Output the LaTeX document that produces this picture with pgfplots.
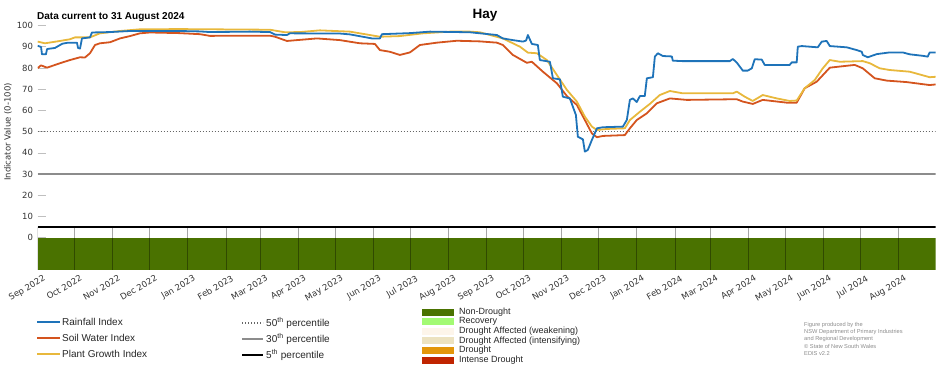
\documentclass[border=0pt]{standalone}
\usepackage{fontspec}
\setmainfont{Liberation Sans}
\newfontfamily\dejavu{DejaVu Sans}
\usepackage{pgfplots}
\pgfplotsset{compat=1.18}
\definecolor{rainc}{RGB}{30,115,185}
\definecolor{soilc}{RGB}{212,84,30}
\definecolor{plantc}{RGB}{232,184,60}
\definecolor{ndgreen}{RGB}{74,114,0}
\definecolor{recov}{RGB}{163,250,115}
\definecolor{weak}{RGB}{253,245,234}
\definecolor{intens}{RGB}{236,226,192}
\definecolor{drought}{RGB}{227,150,10}
\definecolor{intense}{RGB}{192,36,0}
\definecolor{p30}{RGB}{140,140,140}
\begin{document}
\begin{tikzpicture}[x=1pt,y=1pt]
\useasboundingbox (0,0) rectangle (952,370);
\begin{axis}[
  at={(37.7pt,100.5pt)}, anchor=south west,
  scale only axis, width=898pt, height=243.8pt,
  xmin=0, xmax=730, ymin=-15, ymax=100,
  axis line style={draw=none},
  /pgf/number format/assume math mode=true,
  xtick={0,30,61,91,122,153,181,212,242,273,303,334,365,395,426,456,487,518,547,578,608,639,669,700},
  xticklabels={Sep 2022,Oct 2022,Nov 2022,Dec 2022,Jan 2023,Feb 2023,Mar 2023,Apr 2023,May 2023,Jun 2023,Jul 2023,Aug 2023,Sep 2023,Oct 2023,Nov 2023,Dec 2023,Jan 2024,Feb 2024,Mar 2024,Apr 2024,May 2024,Jun 2024,Jul 2024,Aug 2024},
  ytick={0,10,...,100},
  tick align=inside, major tick length=8pt,
  xtick style={draw=none},
  ytick style={color=black!25, line width=0.8pt},
  ytick pos=left, xtick pos=bottom,
  x tick label style={font=\dejavu\fontsize{8.5}{10}\selectfont, color=black!80, xshift=5pt, yshift=-5pt, rotate=30, anchor=north east, inner sep=0pt},
  y tick label style={font=\dejavu\fontsize{8.5}{10}\selectfont, color=black!80, anchor=east, inner sep=0pt, xshift=-4.5pt},
  line join=round,
]
% drought category band
\addplot[draw=none, fill=ndgreen] coordinates {(0,0) (730,0) (730,-15) (0,-15)} -- cycle;
\pgfplotsinvokeforeach{0,30,61,91,122,153,181,212,242,273,303,334,365,395,426,456,487,518,547,578,608,639,669,700}{
  \draw[black, opacity=0.35, line width=0.8pt] (axis cs:#1,-15) -- (axis cs:#1,5);
}
% percentiles
\addplot[black!60, line width=1.3pt, dash pattern=on 1.2pt off 1.8pt] coordinates {(0,50) (730,50)};
\addplot[p30, line width=2pt] coordinates {(0,30) (730,30)};
\addplot[black, line width=2.4pt] coordinates {(0,5) (730,5)};
% Soil Water Index
\addplot[soilc, line width=1.8pt] coordinates {
(0,80) (2.7,81.3) (7.6,80.2) (18.1,82.3) (26.2,83.8) (34.4,85.1) (38.4,85) (42.5,87)
(46.6,90.9) (50.6,91.7) (58.8,92.2) (66.9,94) (75,95.1) (83.1,96.4) (91.3,96.8)
(115,96.5) (131.9,96) (140,95.2) (172.5,95.3) (188.8,95.3) (192.9,94.8) (202.6,92.8)
(227,94) (245.7,93.2) (261.9,91.7) (274.1,91.4) (278.2,88.5) (286.3,87.7) (294.4,86.2)
(302.6,87.4) (310.7,90.9) (324.5,92) (340.8,92.9) (359.4,92.6) (373.3,92) (378.1,90.9)
(386.3,86.2) (397.6,82.5) (401.7,83) (410.7,78.3) (422.1,72.8) (430.2,66.8) (438.3,62.6)
(444.8,55.5) (450.5,49.2) (454.6,47.4) (459.4,48) (477.3,48.4) (481.4,51.6) (487,55.5)
(495.2,58.7) (503.3,63.4) (513.9,65.7) (527.7,65) (565.1,65.3) (568.3,65.3) (573.2,64.2)
(581.3,63.1) (589.4,65) (608.9,63.7) (617,63.7) (623.5,70.5) (633.3,73.6) (643.9,80.2)
(657.7,81.1) (664.2,81.5) (670.7,79.9) (680.4,75.2) (690.2,74.1) (706.4,73.4) (725.1,72) (730,72.3)
};
% Plant Growth Index
\addplot[plantc, line width=1.8pt] coordinates {
(0,92.5) (5.9,91.7) (18.1,92.8) (26.2,93.6) (30.3,94.5) (42.5,94.5) (50.6,96.4) (66.9,97.5)
(83.1,98.3) (115.6,98.4) (188.8,98.1) (201,96.9) (213.2,97) (229.4,97.8) (253.8,97.2)
(278.2,94.8) (294.4,95.1) (313.1,96.4) (335.1,97.2) (351.3,97.2) (359.4,96.9) (378.1,94)
(392,90.1) (398.5,87.3) (405.8,87) (413.9,83.8) (422.1,76.7) (430.2,69.7) (438.3,64.2)
(444.8,57.1) (450.5,52.4) (454.6,50.8) (462.7,51.3) (477.3,51.6) (481.4,55.5) (489.5,59.4)
(497.6,63.1) (505.7,67.3) (513.9,69.2) (524.4,68.1) (565.1,68.1) (568.3,68.9) (574.8,66.5)
(581.3,64.5) (589.4,67.3) (600.8,65.7) (611.3,64.5) (617,64.7) (623.5,70.5) (631.7,74.4)
(638.2,79.9) (643.9,83.8) (652,83) (670.7,83.3) (676.4,82.3) (684.5,79.9) (692.6,79.1)
(708.9,78.3) (725.1,75.7) (730,75.9)
};
% Rainfall Index
\addplot[rainc, line width=1.8pt] coordinates {
(0,90.5) (2.7,90) (3.5,86.5) (6.7,86.5) (7.6,89) (14,89.5) (20,91.5) (24.6,92) (31.9,92)
(32.8,89.5) (34.4,89.2) (36,94) (42.5,94.5) (44.1,96.8) (58.8,97) (75,97.5) (115,97.5)
(131.9,97.3) (140,97) (172.5,97.2) (188.8,97) (192.9,95.8) (202.6,95.6) (205,96.4)
(245.7,96.3) (253.8,95.9) (271.7,94) (278.2,94) (279.8,96) (302.6,96.5) (318.8,97.2)
(351.3,96.9) (373.3,95.6) (378.1,94) (386.3,93.2) (394.4,92.5) (397,93) (398.5,95.6)
(401.7,91.4) (406.6,90.9) (408.2,83.8) (416.4,83) (418.8,75.2) (424.5,74.7) (426.9,66.5)
(432.6,65.7) (437.5,57.9) (439.1,47.6) (443.2,46.4) (444.8,40.6) (447.2,41.4) (450.5,46.1)
(454.6,51.6) (459.4,52.1) (475.7,52.4) (478.9,55.5) (481.4,65) (483.8,65.7) (487,64)
(489.5,66.8) (493.5,66.8) (495.2,75.2) (500.1,75.7) (501.7,85.4) (504.1,87) (508.2,85.7)
(515.5,85.5) (516.3,83.5) (524,83.3) (562.6,83.3) (565.1,84.3) (568.3,82.6) (573.2,78.8)
(577.2,78.8) (580.5,79.9) (582.9,84.2) (588.6,84) (591,81.5) (611.3,81.5) (613,82.7)
(617,82.7) (617.9,90.1) (621.1,90.4) (634.1,89.8) (637.4,92.5) (641.4,92.8) (643.9,90.4)
(657.7,89.8) (665.8,88.5) (669.9,87.7) (670.7,86.2) (674.7,85.1) (682.1,86.6) (692.6,87.4)
(703.2,87.4) (708.9,86.5) (719.4,85.8) (723.5,85.4) (725.1,87.4) (730,87.4)
};
\end{axis}
% titles
\node[font=\bfseries\fontsize{13.5}{15}\selectfont] at (485,355) {Hay};
\node[font=\bfseries\fontsize{10}{12}\selectfont, anchor=west, inner sep=0pt] at (37,352.7) {Data current to 31 August 2024};
\node[font=\dejavu\fontsize{8.5}{10}\selectfont, color=black!80, rotate=90] at (8,238) {Indicator Value (0-100)};
% legend, column 1
\begin{scope}[font=\fontsize{10}{12}\selectfont, every node/.style={anchor=west, inner sep=0pt, color=black!85}]
\draw[rainc, line width=1.8pt] (37,48.3) -- (60,48.3); \node at (62,48.3) {Rainfall Index};
\draw[soilc, line width=1.8pt] (37,32) -- (60,32); \node at (62,32) {Soil Water Index};
\draw[plantc, line width=1.8pt] (37,16) -- (60,16); \node at (62,16) {Plant Growth Index};
\draw[black!60, line width=1.3pt, dash pattern=on 1.2pt off 1.8pt] (242,47) -- (263,47); \node at (266,47) {50\textsuperscript{th} percentile};
\draw[p30, line width=2pt] (242,31) -- (263,31); \node at (266,31) {30\textsuperscript{th} percentile};
\draw[black, line width=2.4pt] (242,15) -- (263,15); \node at (266,15) {5\textsuperscript{th} percentile};
\end{scope}
\begin{scope}[font=\fontsize{9}{10}\selectfont, every node/.style={anchor=west, inner sep=0pt, color=black!85}]
\fill[ndgreen] (421.7,54.5) rectangle (454.3,61.5); \node at (459,58) {Non-Drought};
\fill[recov] (421.7,44.9) rectangle (454.3,51.9); \node at (459,48.4) {Recovery};
\fill[weak] (421.7,35.3) rectangle (454.3,42.3); \node at (459,38.8) {Drought Affected (weakening)};
\fill[intens] (421.7,25.7) rectangle (454.3,32.7); \node at (459,29.2) {Drought Affected (intensifying)};
\fill[drought] (421.7,16.1) rectangle (454.3,23.1); \node at (459,19.6) {Drought};
\fill[intense] (421.7,6.5) rectangle (454.3,13.5); \node at (459,10) {Intense Drought};
\end{scope}
\begin{scope}[font=\fontsize{5.7}{7}\selectfont, every node/.style={anchor=west, inner sep=0pt, color=black!45}]
\node at (804,45) {Figure produced by the};
\node at (804,37.7) {NSW Department of Primary Industries};
\node at (804,30.7) {and Regional Development};
\node at (804,23.3) {\textcopyright\ State of New South Wales};
\node at (804,16) {EDIS v2.2};
\end{scope}
\end{tikzpicture}
\end{document}
